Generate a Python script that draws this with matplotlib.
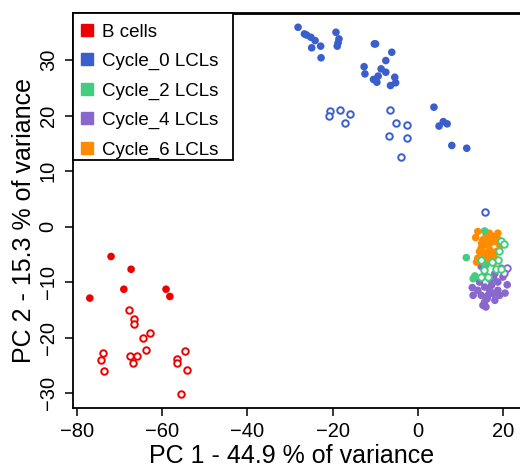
import matplotlib
matplotlib.use("Agg")
import matplotlib.pyplot as plt
from matplotlib.lines import Line2D
from matplotlib.patches import Rectangle

plt.rcParams['font.family'] = ['Liberation Sans', 'DejaVu Sans']

# group colours and legend labels
labels = ["B cells", "Cycle_0 LCLs", "Cycle_2 LCLs", "Cycle_4 LCLs", "Cycle_6 LCLs"]
colors = ["#EE0000", "#3A5FCD", "#43CD80", "#8968CD", "#FF8C00"]

# B cells
b_fill_x = [-72.0, -67.3, -69.0, -77.0, -59.1, -58.2]
b_fill_y = [-5.4, -7.7, -11.3, -12.9, -11.3, -12.6]
b_open_x = [-67.9, -66.6, -66.7, -62.9, -64.6, -63.8, -67.5, -65.9, -66.9, -73.8, -74.4,
            -73.6, -54.7, -56.6, -56.6, -54.2, -55.7]
b_open_y = [-15.1, -16.7, -17.6, -19.2, -20.0, -22.3, -23.3, -23.4, -24.6, -22.8, -24.1,
            -26.0, -22.4, -23.9, -24.6, -25.8, -30.1]

# Cycle_0 LCLs
c0_fill_x = [-28.1, -26.6, -26.1, -25.1, -24.1, -24.9, -22.8, -22.7, -19.2, -18.5, -18.7,
             -18.9, -10.2, -9.9, -6.1, -7.5, -12.6, -12.4, -8.6, -7.5, -9.3, -10.4, -9.6,
             -5.4, -5.2, -6.4, 3.8, 6.0, 6.9, 5.0, 8.0, 11.5]
c0_fill_y = [35.9, 34.7, 34.5, 34.1, 33.5, 32.2, 32.5, 30.4, 35.0, 33.8, 33.1, 32.5, 32.9,
             32.9, 31.4, 29.9, 28.8, 27.5, 28.4, 27.8, 27.1, 26.5, 26.0, 26.9, 25.9, 25.4,
             21.5, 18.9, 18.5, 18.1, 14.6, 14.1]
c0_open_x = [-20.6, -20.9, -18.3, -15.9, -17.1, -6.5, -5.0, -2.5, -6.7, -2.6, -3.9, 15.9]
c0_open_y = [20.8, 20.0, 21.0, 20.3, 18.7, 21.0, 18.6, 18.3, 16.3, 15.9, 12.5, 2.6]

# Cycle_2 LCLs
c2_fill_x = [11.4, 15.7, 13.0, 13.4, 16.0]
c2_fill_y = [-5.6, -0.8, -9.4, -8.9, -7.0]
c2_open_x = [19.6, 19.0, 14.8, 18.9, 14.9, 16.5, 18.4, 19.6, 15.6, 17.4, 20.3]
c2_open_y = [-2.6, -4.4, -6.0, -6.0, -9.1, -9.1, -7.6, -7.6, -7.9, -6.4, -3.2]

# Cycle_4 LCLs
c4_fill_x = [15.7, 17.3, 18.8, 20.0, 14.9, 16.5, 17.7, 13.0, 15.7, 18.1, 14.1, 16.9, 18.8,
             15.3, 18.1, 14.5, 19.2, 14.9, 19.6, 17.0, 15.8, 16.3, 17.8, 21.0, 12.8, 20.5,
             16.0]
c4_fill_y = [-10.9, -10.6, -10.0, -9.1, -12.4, -12.4, -12.1, -12.4, -13.6, -13.3, -11.5,
             -11.5, -11.5, -14.2, -8.5, -10.0, -12.4, -7.2, -7.5, -9.5, -8.8, -13.0, -9.3,
             -10.5, -11.0, -12.0, -14.5]
c4_open_x = [20.9, 20.2]
c4_open_y = [-7.5, -8.4]

# Cycle_6 LCLs
c6_fill_x = [14.1, 15.3, 16.5, 17.7, 18.1, 15.7, 16.9, 14.5, 15.3, 17.3, 18.1, 16.5, 14.9,
             16.1, 19.0, 14.1, 17.7, 15.0, 16.0, 17.0, 18.5, 15.5, 16.8, 13.6, 19.3, 13.8,
             18.8]
c6_fill_y = [-0.9, -2.4, -2.1, -1.8, -2.7, -3.3, -4.2, -4.5, -5.4, -5.1, -5.7, -6.0, -3.9,
             -1.5, -2.4, -5.7, -6.6, -3.0, -4.8, -3.0, -4.5, -6.5, -1.2, -2.0, -3.5, -6.4,
             -1.2]

x_ticks = [-80, -60, -40, -20, 0, 20]
y_ticks = [-30, -20, -10, 0, 10, 20, 30]

fig = plt.figure(figsize=(5.2, 4.69), dpi=100)
# axes run past the right edge, as in the cropped original
ax_w, ax_h = 467, 395
ax = fig.add_axes([73 / 520, 61 / 469, ax_w / 520, ax_h / 469])

fill_s = 30
open_s = 22
open_lw = 1.4


def dots(x, y, c):
    ax.scatter(x, y, s=fill_s, color=c, edgecolors='none', zorder=3)


def rings(x, y, c):
    ax.scatter(x, y, s=open_s, facecolors='white', edgecolors=c, linewidths=open_lw, zorder=3)


rings(b_open_x, b_open_y, colors[0])
dots(b_fill_x, b_fill_y, colors[0])
rings(c0_open_x, c0_open_y, colors[1])
dots(c0_fill_x, c0_fill_y, colors[1])
dots(c4_fill_x, c4_fill_y, colors[3])
rings(c4_open_x, c4_open_y, colors[3])
dots(c6_fill_x, c6_fill_y, colors[4])
dots(c2_fill_x, c2_fill_y, colors[2])
rings(c2_open_x, c2_open_y, colors[2])

ax.set_xlim(-80.94, 28.7)
ax.set_ylim(-32.7, 38.47)
ax.set_xticks(x_ticks)
ax.set_yticks(y_ticks)
ax.tick_params(direction='out', length=6, width=1.1, labelsize=14.5, colors='black')
ax.tick_params(axis='x', pad=4)
ax.tick_params(axis='y', pad=5)
for lab in ax.get_yticklabels():
    lab.set_rotation(90)
    lab.set_va('center')

for side in ['left', 'bottom', 'top']:
    ax.spines[side].set_linewidth(1.3)
ax.spines['top'].set_linewidth(2.0)
ax.spines['right'].set_visible(False)

fig.text(292 / 520, 1 - 456 / 469, "PC 1 - 44.9 % of variance", fontsize=18,
         ha='center', va='center')
fig.text(24 / 520, 1 - 220 / 469, "PC 2 - 15.3 % of variance", fontsize=18,
         ha='center', va='center', rotation=90)

# legend box, 160 x 147 px in the top-left corner
box = Rectangle((0, 1 - 147 / ax_h), 160 / ax_w, 147 / ax_h, transform=ax.transAxes,
                facecolor='white', edgecolor='black', linewidth=1.3, zorder=4, clip_on=False)
ax.add_patch(box)

handles = [Line2D([], [], marker='s', ls='', color=c, markersize=9) for c in colors]
leg = ax.legend(handles, labels, loc='upper left', bbox_to_anchor=(0, 1 - 4 / ax_h),
                borderaxespad=0, frameon=False, fontsize=13.5,
                borderpad=0.35, labelspacing=0.65, handletextpad=0.4, handlelength=0.8)
leg.set_zorder(5)

fig.savefig("out.png", dpi=100)
